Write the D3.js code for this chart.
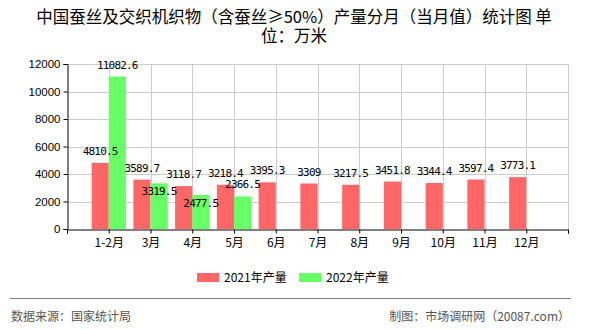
<!DOCTYPE html>
<html lang="zh">
<head>
<meta charset="utf-8">
<title>中国蚕丝及交织机织物产量分月统计图</title>
<script src="https://cdn.jsdelivr.net/npm/d3@7"></script>
<style>
  body { margin: 0; background: #fff; }
  svg { display: block; }
</style>
</head>
<body>
<script>
// data
var months = ["1-2月", "3月", "4月", "5月", "6月", "7月", "8月", "9月", "10月", "11月", "12月"];
var v2021 = [4810.5, 3589.7, 3118.7, 3218.4, 3395.3, 3309, 3217.5, 3451.8, 3344.4, 3597.4, 3773.1];
var v2022 = [11082.6, 3319.5, 2477.5, 2366.5];
var yTicks = [0, 2000, 4000, 6000, 8000, 10000, 12000];
var seriesNames = ["2021年产量", "2022年产量"];
var colors = ["#ff6666", "#66ff66"];

var w = 590, h = 330;
var plotL = 67, plotR = 568, plotT = 64, plotB = 229;

var svg = d3.select("body").append("svg")
  .attr("width", w).attr("height", h);

var cjk = "'Noto Sans CJK SC', sans-serif";

// title
var title = svg.append("text")
  .attr("text-anchor", "middle")
  .attr("font-family", cjk)
  .attr("font-size", "16.5px")
  .attr("fill", "#000");
title.append("tspan").attr("x", 294).attr("y", 23)
  .text("中国蚕丝及交织机织物（含蚕丝≥50%）产量分月（当月值）统计图 单");
title.append("tspan").attr("x", 294).attr("y", 42).text("位：万米");

// scales
var x = d3.scaleLinear().domain([0, months.length + 1]).range([plotL, plotR]);
var y = d3.scaleLinear().domain([0, 12000]).range([plotB, plotT]);
var step = x(1) - x(0);
var barW = step * 0.41;

// grid
var grid = svg.append("g").attr("stroke", "#cccccc").attr("stroke-width", 1);
grid.selectAll("line.h").data(yTicks.slice(1)).enter().append("line")
  .attr("x1", plotL).attr("x2", plotR)
  .attr("y1", function(d) { return Math.round(y(d)) + 0.5; })
  .attr("y2", function(d) { return Math.round(y(d)) + 0.5; });
grid.selectAll("line.v").data(d3.range(1, months.length + 2)).enter().append("line")
  .attr("y1", plotT).attr("y2", plotB)
  .attr("x1", function(d) { return Math.round(x(d)) + 0.5; })
  .attr("x2", function(d) { return Math.round(x(d)) + 0.5; });

// bars
svg.selectAll("rect.b21").data(v2021).enter().append("rect")
  .attr("x", function(d, i) { return x(i + 1) - barW; })
  .attr("y", function(d) { return y(d); })
  .attr("width", barW)
  .attr("height", function(d) { return plotB - y(d); })
  .attr("fill", colors[0]);

svg.selectAll("rect.b22").data(v2022).enter().append("rect")
  .attr("x", function(d, i) { return x(i + 1); })
  .attr("y", function(d) { return y(d); })
  .attr("width", barW)
  .attr("height", function(d) { return plotB - y(d); })
  .attr("fill", colors[1]);

// axes
var yAxis = d3.axisLeft(y).tickValues(yTicks).tickSize(4).tickPadding(3).tickFormat(d3.format("d"));
var gy = svg.append("g").attr("transform", "translate(" + (plotL + 0.5) + ",0)").call(yAxis);
gy.selectAll("text").attr("font-family", "'Liberation Sans', sans-serif").attr("font-size", "11.5px").attr("fill", "#000");

var xAxis = d3.axisBottom(x).tickValues(d3.range(0, months.length + 2)).tickSize(4).tickPadding(5)
  .tickFormat(function(d) { return (d >= 1 && d <= months.length) ? months[d - 1] : ""; });
var gx = svg.append("g").attr("transform", "translate(0," + (plotB + 0.5) + ")").call(xAxis);
gx.selectAll("text").attr("font-family", cjk).attr("font-size", "12px").attr("fill", "#000");
svg.selectAll(".domain").attr("stroke", "#000");
svg.selectAll(".tick line").attr("stroke", "#000");

// data labels
var lblFont = "'DejaVu Sans Mono', monospace";
var redLabelY = v2021.map(function(d) { return y(d) - 8; });
svg.selectAll("text.l21").data(v2021).enter().append("text")
  .attr("x", function(d, i) { return x(i + 1) - barW / 2; })
  .attr("y", function(d, i) { return redLabelY[i]; })
  .attr("text-anchor", "middle")
  .attr("font-family", lblFont).attr("font-size", "11px")
  .attr("letter-spacing", "-0.8px")
  .text(function(d) { return d; });

svg.selectAll("text.l22").data(v2022).enter().append("text")
  .attr("x", function(d, i) { return x(i + 1) + barW / 2; })
  .attr("y", function(d, i) {
    var above = y(d) - 8;
    // push below bar top when it would sit on the 2021 label
    if (Math.abs(above - redLabelY[i]) < 10) return y(d) + 12;
    return above;
  })
  .attr("text-anchor", "middle")
  .attr("font-family", lblFont).attr("font-size", "11px")
  .attr("letter-spacing", "-0.8px")
  .text(function(d) { return d; });

// legend
var legend = svg.append("g").attr("font-family", cjk).attr("font-size", "12px");
var legX = [197, 299];
seriesNames.forEach(function(name, i) {
  legend.append("rect").attr("x", legX[i]).attr("y", 273)
    .attr("width", 22).attr("height", 9).attr("fill", colors[i]);
  legend.append("text").attr("x", legX[i] + 27).attr("y", 281.5).text(name);
});

// footer
svg.append("line").attr("x1", 10).attr("x2", 571).attr("y1", 298.5).attr("y2", 298.5)
  .attr("stroke", "#808080").attr("stroke-width", 1);
svg.append("text").attr("x", 11).attr("y", 321)
  .attr("font-family", cjk).attr("font-size", "12px").attr("fill", "#555")
  .text("数据来源：国家统计局");
svg.append("text").attr("x", 570).attr("y", 321).attr("text-anchor", "end")
  .attr("font-family", cjk).attr("font-size", "12px").attr("fill", "#555")
  .text("制图：市场调研网（20087.com）");
</script>
</body>
</html>
